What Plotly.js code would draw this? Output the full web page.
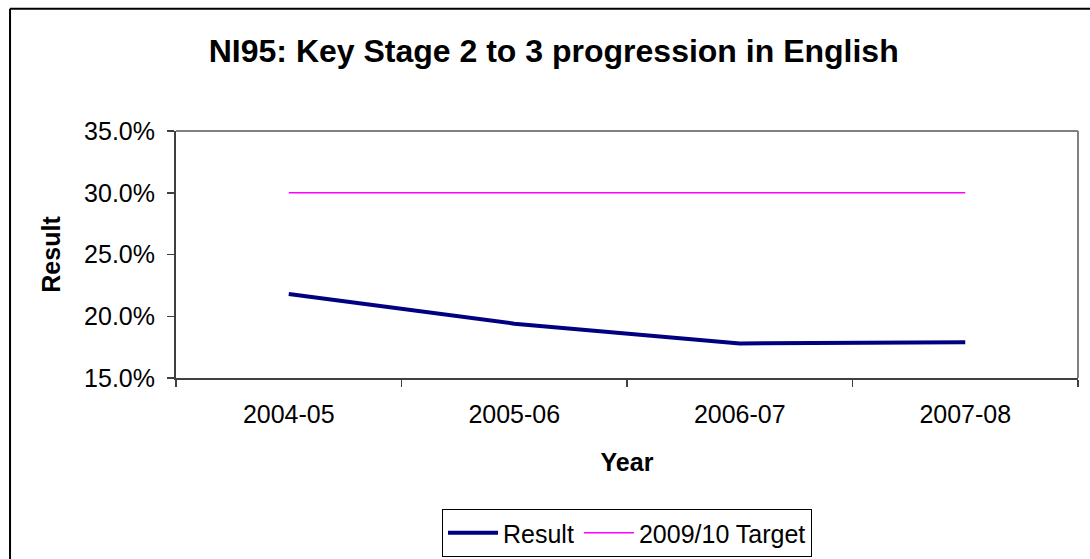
<!DOCTYPE html>
<html>
<head>
<meta charset="utf-8">
<script src="https://cdn.plot.ly/plotly-3.0.1.min.js"></script>
<style>html,body{margin:0;padding:0;background:#fff;}#chart{width:1090px;height:559px;}</style>
</head>
<body>
<div id="chart"></div>
<script>
var categories = ["2004-05", "2005-06", "2006-07", "2007-08"];
var resultValues = [0.218, 0.194, 0.178, 0.179];
var targetValues = [0.30, 0.30, 0.30, 0.30];
var seriesNames = ["Result", "2009/10 Target"];
var chartTitle = "NI95: Key Stage 2 to 3 progression in English";
var xTitle = "Year";
var yTitle = "Result";

var FONT = "'Liberation Sans', Arial, sans-serif";

var traces = [
  {x: categories, y: resultValues, name: seriesNames[0], type: "scatter", mode: "lines",
   line: {color: "#000080", width: 4}},
  {x: categories, y: targetValues, name: seriesNames[1], type: "scatter", mode: "lines",
   line: {color: "#FF00FF", width: 1.5}}
];

var layout = {
  width: 1090, height: 559,
  margin: {l: 176, r: 12, t: 131, b: 181},
  paper_bgcolor: "#fff", plot_bgcolor: "#fff",
  font: {family: FONT, size: 25, color: "#000"},
  title: {text: "<b>" + chartTitle + "</b>", font: {family: FONT, size: 32, color: "#000"},
          xref: "container", x: 0.508, xanchor: "center", yref: "container", y: 0.909, yanchor: "middle"},
  xaxis: {type: "category", range: [-0.5, 3.5], showgrid: false, zeroline: false, automargin: false,
          showline: true, linecolor: "#404040", linewidth: 2,
          ticks: "outside", tickson: "boundaries", ticklen: 7, tickcolor: "#404040", tickwidth: 1.5,
          tickfont: {family: FONT, size: 25, color: "#000"}, ticklabelstandoff: 13,
          title: {text: "<b>" + xTitle + "</b>", font: {family: FONT, size: 25, color: "#000"}, standoff: 26}},
  yaxis: {range: [0.15, 0.35], dtick: 0.05, tick0: 0.15, tickformat: ".1%", showgrid: false, zeroline: false, automargin: false,
          showline: true, linecolor: "#404040", linewidth: 2,
          ticks: "outside", ticklen: 7, tickcolor: "#404040", tickwidth: 1.5,
          tickfont: {family: FONT, size: 25, color: "#000"}, ticklabelstandoff: 7,
          title: {text: "<b>" + yTitle + "</b>", font: {family: FONT, size: 25, color: "#000"}, standoff: 16}},
  legend: {orientation: "h", xref: "paper", x: 0.5, xanchor: "center", yref: "container", y: 0.0894, yanchor: "top",
           bordercolor: "#000", borderwidth: 1, bgcolor: "#fff", itemwidth: 50,
           font: {family: FONT, size: 25, color: "#000"}},
  showlegend: true,
  shapes: [
    {type: "line", xref: "paper", yref: "paper", x0: 0, x1: 1, y0: 1, y1: 1, line: {color: "#808080", width: 2}},
    {type: "line", xref: "paper", yref: "paper", x0: 1, x1: 1, y0: 0, y1: 1, line: {color: "#808080", width: 2}},
    {type: "line", xref: "paper", yref: "paper", x0: -0.184, x1: 1.03, y0: 1.4945, y1: 1.4945, line: {color: "#000", width: 2}},
    {type: "line", xref: "paper", yref: "paper", x0: -0.184, x1: -0.184, y0: 1.4945, y1: -0.8, line: {color: "#000", width: 2}}
  ]
};

Plotly.newPlot("chart", traces, layout, {displayModeBar: false, staticPlot: true});
</script>
</body>
</html>
